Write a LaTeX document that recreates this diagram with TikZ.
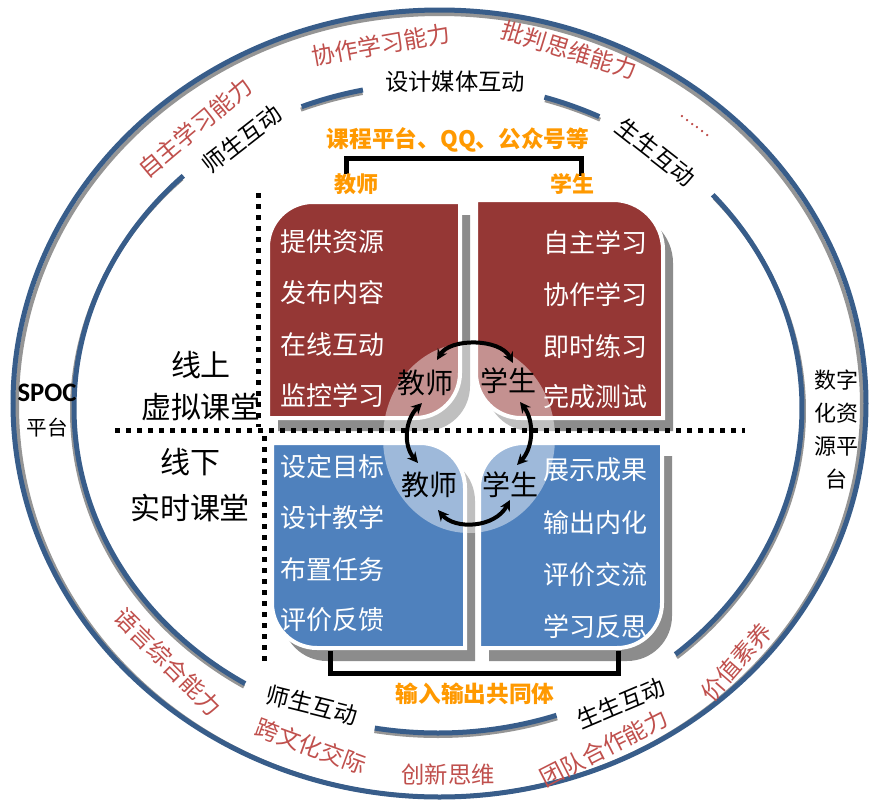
\documentclass[tikz,border=0pt]{standalone}
\usepackage{fontspec}
\setmainfont{Noto Sans CJK SC}
\newfontfamily\carlito{Carlito}
\usetikzlibrary{arrows.meta}
\definecolor{ringblue}{HTML}{385D8A}
\definecolor{ringgray}{HTML}{959595}
\definecolor{redtxt}{HTML}{C0504D}
\definecolor{orangetxt}{HTML}{FF9900}
\definecolor{pred}{HTML}{953735}
\definecolor{pblue}{HTML}{4F81BD}
\definecolor{shadowgray}{HTML}{8C8C8C}
\tikzset{
 ring/.style={draw=ringblue, line width=3.75pt},
 ringsh/.style={draw=ringgray, line width=3pt},
 redlbl/.style={text=redtxt, font=\fontsize{17.5}{21}\selectfont, inner sep=0pt},
 blklbl/.style={text=black, font=\fontsize{17.5}{21}\selectfont, inner sep=0pt},
 orlbl/.style={text=orangetxt, font=\bfseries\fontsize{17}{20}\selectfont, inner sep=0pt},
 ptxt/.style={text=white, font=\fontsize{19.5}{23}\selectfont, inner sep=0pt},
 ctxt/.style={text=black, font=\fontsize{21}{25}\selectfont, inner sep=0pt},
 sidelbl/.style={text=black, align=center, inner sep=0pt},
 dotline/.style={line width=3.75pt, dash pattern=on 3.75pt off 4.5pt},
 brk/.style={line width=3.75pt, line join=miter},
 carrow/.style={{Stealth[length=8pt,width=8pt]}-{Stealth[length=8pt,width=8pt]}, line width=3pt},
 panelborder/.style={draw=white, line width=3pt},
}
\begin{document}
\begin{tikzpicture}[x=0.75pt, y=-0.75pt]
\useasboundingbox (0,0) rectangle (869,808);
\fill[white] (0,0) rectangle (869,808);

% outer ring
\draw[ringsh] (439.5,405.5) ellipse [x radius=422.5, y radius=391.5];
\draw[ring] (439.5,403.5) ellipse [x radius=426.5, y radius=393.5];

% inner ring segments
\foreach \a/\b in {-134.4/-238, -101.9/-112, -63.7/-73, 49.3/-41, 100/71} {
  \draw[ringsh] ([shift={(\a:366 and 325)}]438,411) arc[start angle=\a, end angle=\b, x radius=366, y radius=325];
  \draw[ring] ([shift={(\a:364 and 325)}]438,408) arc[start angle=\a, end angle=\b, x radius=364, y radius=325];
}

% panel shadows
\begin{scope}[shift={(10,13)}]
\fill[shadowgray] (268,418) -- (268,247) arc[start angle=180, end angle=270, radius=45] -- (460,202) -- (460,373) arc[start angle=0, end angle=90, radius=45] -- cycle;
\fill[shadowgray] (476,200) -- (613,200) arc[start angle=270, end angle=360, radius=50] -- (663,418) -- (521,418) arc[start angle=90, end angle=180, radius=45] -- cycle;
\fill[shadowgray] (272,443) -- (420,443) arc[start angle=270, end angle=360, radius=45] -- (465,648) -- (317,648) arc[start angle=90, end angle=180, radius=45] -- cycle;
\fill[shadowgray] (479,648) -- (479,488) arc[start angle=180, end angle=270, radius=45] -- (662,443) -- (662,603) arc[start angle=0, end angle=90, radius=45] -- cycle;
\end{scope}

% panels
\path[fill=pred, panelborder] (268,418) -- (268,247) arc[start angle=180, end angle=270, radius=45] -- (460,202) -- (460,373) arc[start angle=0, end angle=90, radius=45] -- cycle;
\path[fill=pred, panelborder] (476,200) -- (613,200) arc[start angle=270, end angle=360, radius=50] -- (663,418) -- (521,418) arc[start angle=90, end angle=180, radius=45] -- cycle;
\path[fill=pblue, panelborder] (272,443) -- (420,443) arc[start angle=270, end angle=360, radius=45] -- (465,648) -- (317,648) arc[start angle=90, end angle=180, radius=45] -- cycle;
\path[fill=pblue, panelborder] (479,648) -- (479,488) arc[start angle=180, end angle=270, radius=45] -- (662,443) -- (662,603) arc[start angle=0, end angle=90, radius=45] -- cycle;

% centre overlay
\fill[white, opacity=0.45] (469,438) ellipse [x radius=86, y radius=95];

% dotted division lines
\draw[dotline] (258,193) -- (258,427);
\draw[dotline] (264,436) -- (264,666);
\draw[dotline] (115,430) -- (745,430);

% brackets
\draw[brk] (346,174) -- (346,158) -- (581,158) -- (581,176);
\draw[brk] (330,651) -- (330,673) -- (618,673) -- (618,651);

% outer red labels
\node[redlbl, rotate=40]  (r1) at (195,128) {自主学习能力};
\node[redlbl, rotate=10]  (r2) at (381,45)  {协作学习能力};
\node[redlbl, rotate=-17] (r3) at (569,50)  {批判思维能力};
\node[redlbl, rotate=-38, font=\fontsize{13}{15}\selectfont] (r4) at (695,126) {……};
\node[redlbl, rotate=-45] (r5) at (168,662) {语言综合能力};
\node[redlbl, rotate=-20] (r6) at (311,746) {跨文化交际};
\node[redlbl]             (r7) at (448,775) {创新思维};
\node[redlbl, rotate=27]  (r8) at (604,748) {团队合作能力};
\node[redlbl, rotate=49]  (r9) at (736,662) {价值素养};

% inner ring black labels
\node[blklbl, rotate=38]  (k1) at (242,139) {师生互动};
\node[blklbl]             (k2) at (455,82)  {设计媒体互动};
\node[blklbl, rotate=-38] (k3) at (656,152) {生生互动};
\node[blklbl, rotate=-14] (k4) at (312,705) {师生互动};
\node[blklbl, rotate=23]  (k5) at (621,703) {生生互动};

% platform labels
\node[sidelbl, font=\fontsize{15.5}{25.5}\selectfont] (spoc) at (47,411) {{\carlito\bfseries\fontsize{20}{25.5}\selectfont SPOC}\\平台};
\node[sidelbl, font=\fontsize{16.5}{24.75}\selectfont] (szpt) at (836,430) {数字\\化资\\源平\\台};

% online / offline labels
\node[sidelbl, font=\fontsize{22.5}{31.5}\selectfont] (xs) at (201,386) {线上\\虚拟课堂};
\node[sidelbl, font=\fontsize{22.5}{34}\selectfont] (xx) at (190,485) {线下\\实时课堂};

% orange labels
\node[orlbl] (o1) at (458,140) {课程平台、QQ、公众号等};
\node[orlbl, font=\bfseries\fontsize{16.5}{20}\selectfont] (o2) at (356,184) {教师};
\node[orlbl, font=\bfseries\fontsize{16.5}{20}\selectfont] (o3) at (572,184) {学生};
\node[orlbl] (o4) at (475,694) {输入输出共同体};

% panel texts
\node[ptxt, anchor=west] (p1) at (280,242) {提供资源};
\node[ptxt, anchor=west] (p2) at (280,293) {发布内容};
\node[ptxt, anchor=west] (p3) at (280,345) {在线互动};
\node[ptxt, anchor=west] (p4) at (280,395) {监控学习};
\node[ptxt, anchor=east] (q1) at (648,243) {自主学习};
\node[ptxt, anchor=east] (q2) at (648,295) {协作学习};
\node[ptxt, anchor=east] (q3) at (648,347) {即时练习};
\node[ptxt, anchor=east] (q4) at (648,397) {完成测试};
\node[ptxt, anchor=west] (u1) at (280,467) {设定目标};
\node[ptxt, anchor=west] (u2) at (280,518) {设计教学};
\node[ptxt, anchor=west] (u3) at (280,570) {布置任务};
\node[ptxt, anchor=west] (u4) at (280,620) {评价反馈};
\node[ptxt, anchor=east] (v1) at (648,470) {展示成果};
\node[ptxt, anchor=east] (v2) at (648,523) {输出内化};
\node[ptxt, anchor=east] (v3) at (648,575) {评价交流};
\node[ptxt, anchor=east] (v4) at (648,627) {学习反思};

% centre labels
\node[ctxt] (t1) at (425,383) {教师};
\node[ctxt] (s1) at (508,381) {学生};
\node[ctxt] (t2) at (429,485) {教师};
\node[ctxt] (s2) at (510,485) {学生};

% centre arrows
\coordinate (a1) at (437,360);
\coordinate (a2) at (513,363);
\coordinate (b1) at (422,403);
\coordinate (b2) at (418,463);
\coordinate (c1) at (520,402);
\coordinate (c2) at (517,465);
\coordinate (d1) at (438,510);
\coordinate (d2) at (510,500);
\draw[carrow] (a1) .. controls (450,338) and (500,338) .. (a2);
\draw[carrow] (b1) .. controls (405,420) and (403,445) .. (b2);
\draw[carrow] (c1) .. controls (534,420) and (534,447) .. (c2);
\draw[carrow] (d1) .. controls (455,530) and (495,528) .. (d2);
\end{tikzpicture}
\end{document}
